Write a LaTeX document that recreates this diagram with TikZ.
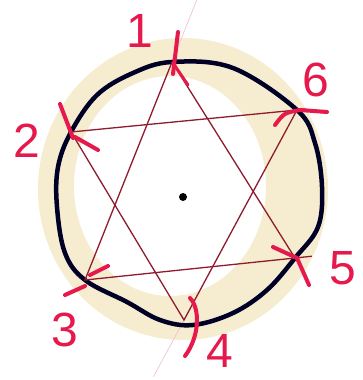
\documentclass[tikz,border=0pt]{standalone}
\usepackage{fontspec}
\setmainfont{Liberation Sans}
\usetikzlibrary{calc}
\definecolor{ink}{HTML}{8E1B2E}
\definecolor{marker}{HTML}{E5194B}
\definecolor{wash}{HTML}{F6EDD1}
\definecolor{construction}{HTML}{EDBBD3}

\begin{document}
\begin{tikzpicture}[
  x=1pt, y=-1pt,
  starline/.style={ink, line width=1.3pt},
  tick/.style={marker, line width=4pt, line cap=round},
  number/.style={text=marker, font=\fontsize{48}{48}\selectfont, inner sep=0pt},
]
\useasboundingbox (0,0) rectangle (362,380);
\fill[wash, even odd rule] (183,189) ellipse [x radius=145, y radius=151]
  (170,186) ellipse [x radius=96, y radius=110];

\coordinate (v1) at (172,62);
\coordinate (v2) at (71,132);
\coordinate (v3) at (85,280);
\coordinate (v4) at (184,320);
\coordinate (v5) at (295,258);
\coordinate (v6) at (297,110);

\draw[construction, line width=0.6pt] (v1) -- ($(v3)!1.31!(v1)$);
\draw[construction, line width=0.6pt] (v4) -- ($(v6)!1.27!(v4)$);

\draw[black!85!blue, line width=4.5pt] plot[smooth cycle, tension=0.6] coordinates {
  (172,62) (233,68) (297,110) (315,143) (322,187) (318,227) (295,258)
  (267,290) (233,313) (193,325) (160,320) (127,302) (85,280) (65,253)
  (57,207) (58,167) (71,132) (97,95) (133,73)};

\draw[starline] (v1) -- (v3) -- ($(v3)!1.08!(v5)$);
\draw[starline] (v5) -- (v1);
\draw[starline] (v2) -- (v4) -- (v6);
\draw[starline] (v2) -- ($(v2)!1.04!(v6)$);

\draw[tick] (178,32) -- (173,74);
\draw[tick, line width=3pt] (173,63) -- (188,85);
\draw[tick] (60,104) -- (73,138);
\draw[tick] (75,137) -- (98,150);
\draw[tick] (65,295) -- (85,286);
\draw[tick] (90,275) -- (108,266);
\draw[tick] (190,298) .. controls (200,308) and (200,336) .. (185,356);
\draw[tick] (273,247) -- (297,258);
\draw[tick] (297,258) -- (309,285);
\draw[tick] (275,125) .. controls (284,113) .. (300,110) -- (327,112);

\node[circle, fill=black, inner sep=0pt, minimum size=8pt] (centre) at (183,197) {};

\node[number] (n1) at (140,31) {1};
\node[number] (n2) at (27,141) {2};
\node[number] (n3) at (65,330) {3};
\node[number] (n4) at (220,351) {4};
\node[number] (n5) at (343,268) {5};
\node[number] (n6) at (316,80) {6};
\end{tikzpicture}
\end{document}
